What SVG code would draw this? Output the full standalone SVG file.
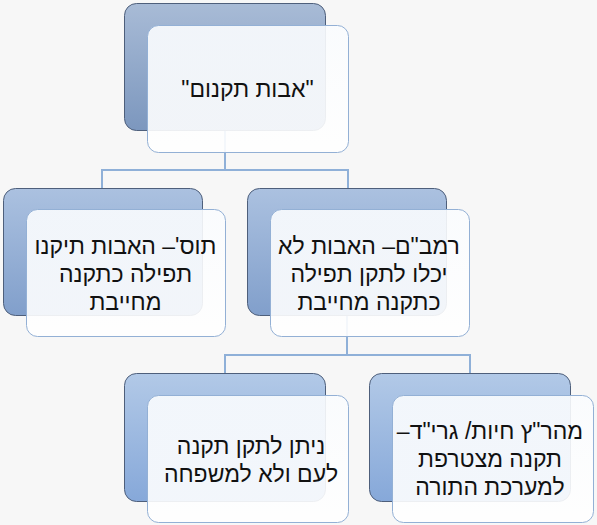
<svg xmlns="http://www.w3.org/2000/svg" width="597" height="525" viewBox="0 0 597 525">
<defs>
<linearGradient id="gTop" x1="0" y1="0" x2="0" y2="1">
<stop offset="0" stop-color="#a8bbd6"/>
<stop offset="1" stop-color="#7c97be"/>
</linearGradient>
<linearGradient id="gMid" x1="0" y1="0" x2="0" y2="1">
<stop offset="0" stop-color="#abc1e0"/>
<stop offset="1" stop-color="#819fcb"/>
</linearGradient>
<linearGradient id="gBot" x1="0" y1="0" x2="0" y2="1">
<stop offset="0" stop-color="#b2c9e7"/>
<stop offset="1" stop-color="#86a8d9"/>
</linearGradient>
<linearGradient id="gFront" x1="0" y1="0" x2="0" y2="1">
<stop offset="0" stop-color="#fafcfe"/>
<stop offset="1" stop-color="#ffffff"/>
</linearGradient>
</defs>
<style>
.back{stroke:#4e5f7b;stroke-width:1}
.front{fill:url(#gFront);fill-opacity:0.9;stroke:#93b0d5;stroke-width:1}
.conn{fill:none;stroke:#8fb0d8;stroke-width:2}
text{font-family:"Liberation Sans",Arial,sans-serif;font-size:23px;fill:#111;text-anchor:middle;direction:rtl;unicode-bidi:embed}
</style>
<rect width="597" height="525" fill="#f7f7f7"/>
<g id="connectors">
<path class="conn" d="M225,130 V170 M102,188 V170 H348 V188"/>
<path class="conn" d="M347,315 V355 M225,373 V355 H470 V373"/>
</g>
<g id="node-top">
<rect class="back" x="124.5" y="3.5" width="201" height="127" rx="12" fill="url(#gTop)"/>
<rect class="front" x="147.5" y="25.5" width="201" height="127" rx="11"/>
<text x="247.5" y="97">"אבות תקנום"</text>
</g>
<g id="node-tos">
<rect class="back" x="3.5" y="188.5" width="199" height="127" rx="12" fill="url(#gMid)"/>
<rect class="front" x="26.5" y="209.5" width="199" height="127" rx="11"/>
<text x="125.5" y="253.5">תוס'– האבות תיקנו</text>
<text x="125.5" y="281.5">תפילה כתקנה</text>
<text x="125.5" y="309.5">מחייבת</text>
</g>
<g id="node-rambam">
<rect class="back" x="247.5" y="188.5" width="199" height="127" rx="12" fill="url(#gMid)"/>
<rect class="front" x="270.5" y="209.5" width="199" height="127" rx="11"/>
<text x="369" y="253.5">רמב"ם– האבות לא</text>
<text x="369" y="281.5">יכלו לתקן תפילה</text>
<text x="369" y="309.5">כתקנה מחייבת</text>
</g>
<g id="node-am">
<rect class="back" x="124.5" y="373.5" width="201" height="128" rx="12" fill="url(#gBot)"/>
<rect class="front" x="147.5" y="395.5" width="201" height="127" rx="11"/>
<text x="251" y="454">ניתן לתקן תקנה</text>
<text x="251" y="482">לעם ולא למשפחה</text>
</g>
<g id="node-maharatz">
<rect class="back" x="369.5" y="373.5" width="201" height="128" rx="12" fill="url(#gBot)"/>
<rect class="front" x="392.5" y="395.5" width="201" height="127" rx="11"/>
<text x="490" y="439">מהר"ץ חיות/ גרי"ד–</text>
<text x="490" y="467">תקנה מצטרפת</text>
<text x="490" y="495">למערכת התורה</text>
</g>
</svg>
